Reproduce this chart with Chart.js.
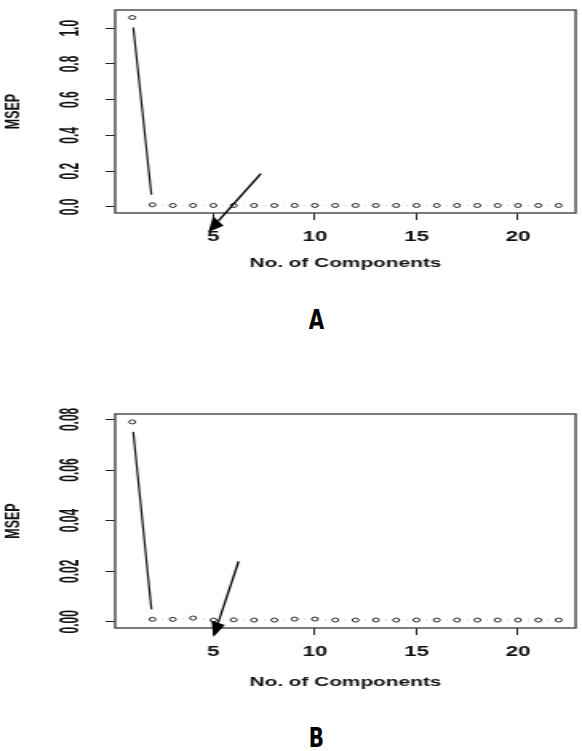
<!DOCTYPE html>
<html><head><meta charset="utf-8">
<script src="https://cdn.jsdelivr.net/npm/chart.js@4.4.1/dist/chart.umd.min.js"></script>
<style>
html,body{margin:0;padding:0;background:#fff;width:582px;height:751px;overflow:hidden;position:relative}
canvas{position:absolute;left:0}
.lab{position:absolute;left:266px;width:100px;text-align:center;font-family:'Liberation Sans Narrow','DejaVu Sans Condensed',sans-serif;font-weight:bold;font-size:27px;line-height:27px;color:#000}
.lab span{display:inline-block;transform:scaleX(0.82)}
</style></head><body>
<canvas id="c1" width="364" height="280" style="top:0;width:582px;height:280px"></canvas>
<div class="lab" style="top:306px"><span>A</span></div>
<canvas id="c2" width="364" height="294" style="top:404px;width:582px;height:294px"></canvas>
<div class="lab" style="top:724px"><span>B</span></div>
<script>
// ---- data ----
const components = [1,2,3,4,5,6,7,8,9,10,11,12,13,14,15,16,17,18,19,20,21,22];
const msepA = [1.06,0.012,0.008,0.008,0.008,0.008,0.008,0.008,0.008,0.008,0.008,0.008,0.008,0.008,0.008,0.008,0.008,0.008,0.008,0.008,0.008,0.008];
const msepB = [0.079,0.0010,0.0010,0.0015,0.0007,0.0008,0.0007,0.0007,0.0011,0.0011,0.0007,0.0007,0.0007,0.0007,0.0007,0.0007,0.0007,0.0007,0.0007,0.0007,0.0007,0.0007];
const xTickValues = [5,10,15,20];
const yTickValuesA = [0,0.2,0.4,0.6,0.8,1.0];
const yTickLabelsA = ['0.0','0.2','0.4','0.6','0.8','1.0'];
const yTickValuesB = [0,0.02,0.04,0.06,0.08];
const yTickLabelsB = ['0.00','0.02','0.04','0.06','0.08'];
const xTitle = 'No. of Components';
const yTitle = 'MSEP';
// arrows given in data coordinates [component, MSEP]
const arrowA = {from:[7.34,0.186], to:[4.75,-0.141]};
const arrowB = {from:[6.24,0.0239], to:[5.0,-0.006]};

Chart.defaults.font.family = "'Liberation Sans', Arial, sans-serif";
Chart.defaults.color = '#111';

function rRange(arr){ // R default 4% axis extension
  const mn = Math.min(...arr), mx = Math.max(...arr), d = (mx-mn)*0.04;
  return [mn-d, mx+d];
}
function stretchOf(chart){
  return parseFloat(chart.canvas.style.width) / chart.canvas.width;
}

const typeBPlugin = {
  id:'typeB',
  beforeDatasetsDraw(chart){
    const SX = stretchOf(chart);
    const pts = chart.getDatasetMeta(0).data;
    const ctx = chart.ctx, gap = 10;
    ctx.save();
    ctx.strokeStyle = '#111'; ctx.lineWidth = 1.2;
    ctx.beginPath();
    for (let i=0;i<pts.length-1;i++){
      const p = pts[i], q = pts[i+1];
      const dx = (q.x-p.x)*SX, dy = q.y-p.y, d = Math.hypot(dx,dy);
      if (d <= 2*gap) continue;
      const ux = dx/d, uy = dy/d;
      ctx.moveTo(p.x + ux*gap/SX, p.y + uy*gap);
      ctx.lineTo(q.x - ux*gap/SX, q.y - uy*gap);
    }
    ctx.stroke();
    ctx.restore();
  }
};

const decoPlugin = {
  id:'deco',
  afterDraw(chart, args, opts){
    const ctx = chart.ctx, a = chart.chartArea;
    const SX = stretchOf(chart);
    // box
    ctx.save();
    ctx.strokeStyle = '#444'; ctx.lineWidth = 1.4;
    ctx.strokeRect(a.left, a.top, a.right-a.left, a.bottom-a.top);
    ctx.restore();
    // rotated y tick labels
    const ys = chart.scales.y;
    ctx.save();
    ctx.fillStyle = '#111';
    ctx.font = 'bold 12px "Liberation Sans", Arial, sans-serif';
    ctx.textAlign = 'center'; ctx.textBaseline = 'middle';
    ys.ticks.forEach(t => {
      const y = ys.getPixelForValue(t.value);
      ctx.save();
      ctx.translate(a.left - opts.labelOffset/SX, y);
      ctx.rotate(-Math.PI/2);
      ctx.scale(1, 1.3);
      ctx.fillText(t.label, 0, 0);
      ctx.restore();
    });
    ctx.restore();
    // arrow
    const ar = opts.arrow, xs = chart.scales.x;
    const x1 = xs.getPixelForValue(ar.from[0])*SX, y1 = ys.getPixelForValue(ar.from[1]);
    const x2 = xs.getPixelForValue(ar.to[0])*SX, y2 = ys.getPixelForValue(ar.to[1]);
    ctx.save();
    ctx.scale(1/SX, 1);
    const ang = Math.atan2(y2-y1, x2-x1), hl = 15, hw = 7;
    const bx = x2 - Math.cos(ang)*hl, by = y2 - Math.sin(ang)*hl;
    ctx.strokeStyle = '#000'; ctx.fillStyle = '#000'; ctx.lineWidth = 2;
    ctx.beginPath(); ctx.moveTo(x1,y1); ctx.lineTo(bx,by); ctx.stroke();
    ctx.beginPath();
    ctx.moveTo(x2,y2);
    ctx.lineTo(bx + Math.sin(ang)*hw, by - Math.cos(ang)*hw);
    ctx.lineTo(bx - Math.sin(ang)*hw, by + Math.cos(ang)*hw);
    ctx.closePath(); ctx.fill();
    ctx.restore();
  }
};

function makeChart(id, values, yVals, yLabels, arrow, xAxisHeight, titlePad){
  const yr = rRange(values), xr = rRange(components);
  return new Chart(document.getElementById(id), {
    type:'line',
    data:{ labels: components, datasets:[{
      data: components.map((c,i)=>({x:c, y:values[i]})),
      showLine:false,
      pointRadius:2, pointHoverRadius:2, pointBorderWidth:1,
      pointBorderColor:'#222', pointBackgroundColor:'#fff'
    }]},
    options:{
      responsive:false, animation:false, devicePixelRatio:1,
      layout:{padding:{top:10,right:4,bottom:0,left:0}},
      plugins:{legend:{display:false}, tooltip:{enabled:false},
        deco:{arrow: arrow, labelOffset: 43}},
      scales:{
        x:{type:'linear', min:xr[0], max:xr[1],
          afterBuildTicks(s){ s.ticks = xTickValues.map(v=>({value:v})); },
          afterFit(s){ s.height = xAxisHeight; },
          grid:{drawOnChartArea:false, drawTicks:true, tickLength:7, color:'#222', lineWidth:1},
          border:{display:false},
          ticks:{font:{size:14, weight:'bold'}, padding:8.5, maxRotation:0, minRotation:0, color:'#111',
            callback:v=>String(v)},
          title:{display:true, text:xTitle, font:{size:13, weight:'bold'}, padding:{top:0,bottom:titlePad}, color:'#111'}
        },
        y:{type:'linear', min:yr[0], max:yr[1],
          afterBuildTicks(s){ s.ticks = yVals.map(v=>({value:v})); },
          afterFit(s){ s.width = 72; },
          grid:{drawOnChartArea:false, drawTicks:true, tickLength:6, color:'#222', lineWidth:1},
          border:{display:false},
          ticks:{display:false, callback:(v)=>{ const i = yVals.indexOf(v); return i>=0 ? yLabels[i] : ''; }},
          title:{display:true, text:yTitle, font:{size:12.5, weight:'bold'}, padding:{top:1,bottom:0}, color:'#111'}
        }
      }
    },
    plugins:[typeBPlugin, decoPlugin]
  });
}

makeChart('c1', msepA, yTickValuesA, yTickLabelsA, arrowA, 67, 9);
makeChart('c2', msepB, yTickValuesB, yTickLabelsB, arrowB, 70, 8);
</script>
</body></html>
